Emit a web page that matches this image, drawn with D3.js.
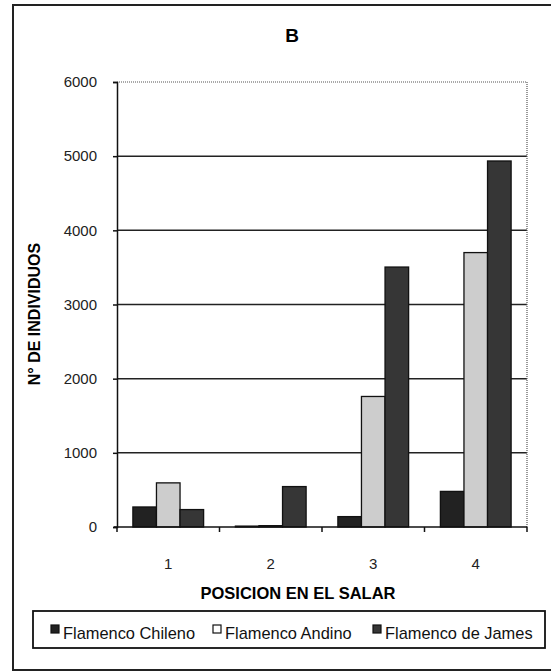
<!DOCTYPE html>
<html><head><meta charset="utf-8">
<script src="https://cdn.jsdelivr.net/npm/d3@7"></script>
<style>body{margin:0;background:#fff;} svg{display:block;}</style>
</head><body>
<script>
const categories = ["1","2","3","4"];
const seriesNames = ["Flamenco Chileno","Flamenco Andino","Flamenco de James"];
const chileno = [270, 12, 140, 480];
const andino = [595, 18, 1760, 3700];
const james = [235, 545, 3505, 4935];
const yTicks = [0,1000,2000,3000,4000,5000,6000];
const colors = ["#222222","#cdcdcd","#363636"];

const W = 551, H = 671;
const svg = d3.select("body").append("svg").attr("width", W).attr("height", H);
const font = "'Liberation Sans', Arial, sans-serif";

// outer frame
svg.append("rect").attr("x",13).attr("y",5).attr("width",545).attr("height",665)
  .attr("fill","#fff").attr("stroke","#222").attr("stroke-width",2);

svg.append("text").attr("x",292).attr("y",42).attr("text-anchor","middle")
  .attr("font-family",font).attr("font-weight","bold").attr("font-size",19).text("B");

const x0 = d3.scaleBand().domain(categories).range([117,527]).paddingInner(0.31).paddingOuter(0.155);
const x1 = d3.scaleBand().domain(seriesNames).range([0, x0.bandwidth()]);
const y = d3.scaleLinear().domain([0,6000]).range([527,82]);

// gridlines
svg.append("g").selectAll("line").data(yTicks.filter(t=>t>0 && t<6000)).join("line")
  .attr("x1",117).attr("x2",527).attr("y1",d=>y(d)).attr("y2",d=>y(d))
  .attr("stroke","#222").attr("stroke-width",1.5);
// dotted top and right border
svg.append("path").attr("d",`M117,${y(6000)}H527V${y(0)}`).attr("fill","none")
  .attr("stroke","#555").attr("stroke-width",1.2).attr("stroke-dasharray","1,1");

const data = [chileno, andino, james];
const g = svg.append("g");
categories.forEach((c,i)=>{
  seriesNames.forEach((s,j)=>{
    g.append("rect").attr("x",x0(c)+x1(s)).attr("y",y(data[j][i]))
      .attr("width",x1.bandwidth()).attr("height",y(0)-y(data[j][i]))
      .attr("fill",colors[j]).attr("stroke","#111").attr("stroke-width",1.3);
  });
});

// y axis
const yAxis = d3.axisLeft(y).tickValues(yTicks).tickSize(4).tickPadding(16).tickFormat(d3.format("d"));
const ya = svg.append("g").attr("transform","translate(117,0)").call(yAxis);
ya.select(".domain").attr("stroke","#111").attr("stroke-width",1.5);
ya.selectAll(".tick line").attr("stroke","#111").attr("stroke-width",1.5);
ya.selectAll("text").attr("font-family",font).attr("font-size",15).attr("fill","#222");

// x axis
const xb = d3.scalePoint().domain([0,1,2,3,4]).range([117,527]);
const xa = svg.append("g").attr("transform","translate(0,527)");
xa.append("line").attr("x1",114).attr("x2",527).attr("y1",0).attr("y2",0).attr("stroke","#111").attr("stroke-width",1.5);
xa.selectAll("line.t").data([0,1,2,3,4]).join("line").attr("class","t")
  .attr("x1",d=>xb(d)).attr("x2",d=>xb(d)).attr("y1",0).attr("y2",5).attr("stroke","#111").attr("stroke-width",1.5);
xa.selectAll("text").data(categories).join("text")
  .attr("x",d=>x0(d)+x0.bandwidth()/2).attr("y",42).attr("text-anchor","middle")
  .attr("font-family",font).attr("font-size",15).attr("fill","#222").text(d=>d);

svg.append("text").attr("x",298).attr("y",599).attr("text-anchor","middle")
  .attr("font-family",font).attr("font-weight","bold").attr("font-size",16.5).text("POSICION EN EL SALAR");
svg.append("text").attr("transform","translate(40,314) rotate(-90)").attr("text-anchor","middle")
  .attr("font-family",font).attr("font-weight","bold").attr("font-size",16).text("N° DE INDIVIDUOS");

// legend
svg.append("rect").attr("x",33).attr("y",611).attr("width",512).attr("height",37)
  .attr("fill","#fff").attr("stroke","#111").attr("stroke-width",1.8);
const legX = [51,213,373];
seriesNames.forEach((s,j)=>{
  svg.append("rect").attr("x",legX[j]).attr("y",625).attr("width",8).attr("height",8)
    .attr("fill",j===1?"#fff":colors[j]).attr("stroke","#111").attr("stroke-width",1.2);
  svg.append("text").attr("x",legX[j]+12).attr("y",639).attr("font-family",font).attr("font-size",16.4)
    .attr("fill","#111").text(s);
});
</script>
</body></html>
